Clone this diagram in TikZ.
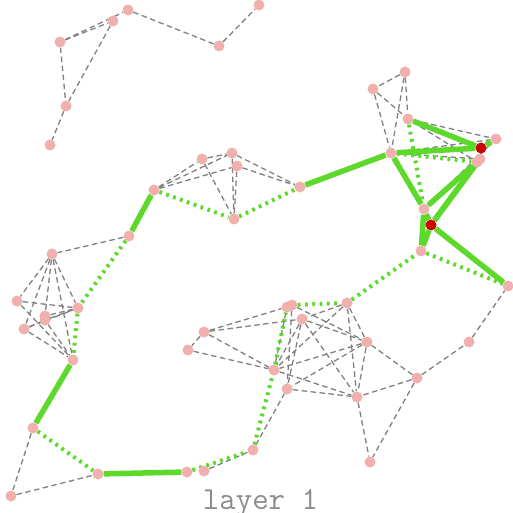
\documentclass[tikz,border=0pt]{standalone}
\usetikzlibrary{backgrounds}
\definecolor{pnk}{HTML}{F0B0AE}
\definecolor{rd}{HTML}{CC0000}
\definecolor{grn}{HTML}{5DD92B}
\definecolor{gry}{HTML}{808080}
\definecolor{txtgry}{HTML}{8C8C8C}
\tikzset{
  vx/.style={circle,fill=pnk,draw=none,minimum size=11pt,inner sep=0pt},
  vr/.style={circle,fill=rd,draw=none,minimum size=11pt,inner sep=0pt},
  dash edge/.style={draw=gry,line width=1.3pt,dash pattern=on 5.5pt off 3.5pt},
  dot edge/.style={draw=grn,line width=4pt,dash pattern=on 2.8pt off 4.5pt},
  solid edge/.style={draw=grn,line width=5.5pt},
}
\begin{document}
\begin{tikzpicture}[x=1pt,y=-1pt]
\useasboundingbox (0,0) rectangle (513,513);
% nodes
\foreach \n/\x/\y in {A1/128/10,A2/113/21,A3/60/42,A4/219/46,A5/259/5,A6/66/106,A7/50/145,
  B1/405/72,B2/373/89,B3/408/119,B4/496/139,B6/391/153,B7a/477/162,B7b/480/159,B8/424/209,B10/421/251,B11/508/286,
  C1/154/190,C2/202/159,C3/232/153,C4/237/166,C5/300/187,C6/234/219,
  D1/129/236,D2/52/254,D3/17/301,D4/78/308,D5a/45/316,D5b/45/320,D6/24/329,D7/73/360,
  E1/204/332,E2/188/350,E3a/287/307,E3b/292/305,E4/302/319,E5/347/303,E6/367/342,E7/274/370,E8/287/389,E9/357/397,
  F1/469/342,F2/417/378,F3/370/462,
  G1/33/428,G2/11/496,G3/98/474,G4/187/472,G5/204/471,G6/253/450}
  \node[vx] (\n) at (\x,\y) {};
\node[vr] (B5) at (481,148) {};
\node[vr] (B9) at (431,225) {};
\node[text=txtgry,anchor=base,font=\ttfamily\fontsize{32}{34}\selectfont] (lbl) at (260.5,509) {layer 1};
\begin{scope}[on background layer]
% dashed gray
\foreach \a/\b in {A3/A1,A3/A2,A2/A6,A1/A4,A4/A5,A3/A6,A6/A7,
  B1/B2,B2/B6,B1/B6,B1/B3,B2/B3,B3/B4,B6/B4,B3/B7a,B8/B4,B6/B7b,
  C1/C2,C1/C3,C1/C4,C2/C3,C3/C5,C4/C5,C2/C6,C3/C6,C4/C6,
  D1/D2,D2/D3,D2/D6,D2/D5a,D2/D4,D3/D4,D3/D7,D6/D4,D6/D5b,D6/D7,D5b/D7,D5a/D4,D5b/D4,D2/D7,
  E1/E2,E1/E3a,E1/E4,E1/E7,E2/E7,E3a/E7,E3b/E8,E4/E7,E4/E8,E4/E6,E4/E9,E3b/E6,E5/E4,E5/E6,E5/E9,E6/E7,E6/E8,E7/E9,E8/E9,E6/E9,E5/E7,
  F1/B11,F2/F1,F2/E6,F2/E9,F2/F3,E9/F3,
  G1/G2,G2/G3,G5/G6,G6/E8}
  \draw[dash edge] (\a) -- (\b);
% dotted green
\foreach \a/\b in {C1/C6,C6/C5,D1/D4,D4/D7,G1/G3,G4/G6,G6/E7,E7/E3a,E3b/E5,E5/B10,B10/B11,B3/B8,B6/B7a}
  \draw[dot edge] (\a) -- (\b);
% solid green
\foreach \a/\b in {C5/B6,C1/D1,D7/G1,G3/G4,B6/B5,B3/B5,B5/B4,B6/B8,B8/B7a,B9/B7b,B9/B7a,B8/B10,B9/B10,B9/B11,B8/B9}
  \draw[solid edge] (\a) -- (\b);
\end{scope}
\end{tikzpicture}
\end{document}
